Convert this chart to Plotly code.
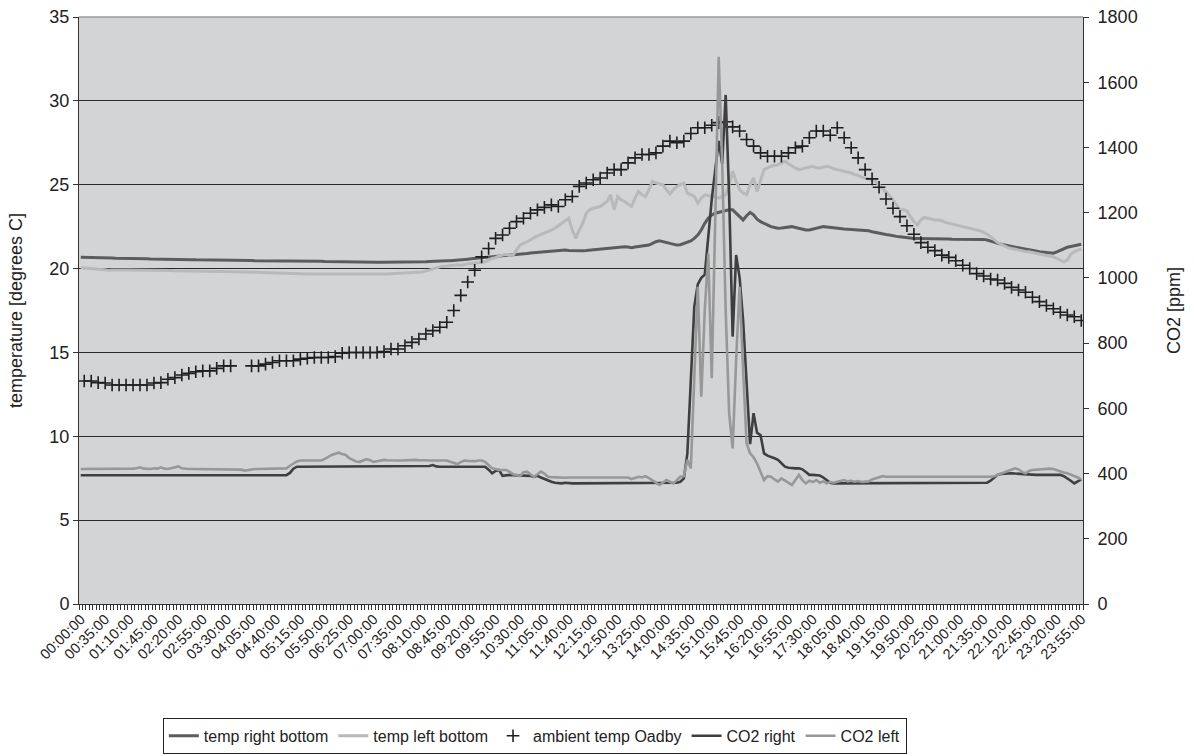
import plotly.graph_objects as go

# ---------------- data ----------------
TICK_LABELS = ["00:00:00","00:35:00","01:10:00","01:45:00","02:20:00","02:55:00","03:30:00",
               "04:05:00","04:40:00","05:15:00","05:50:00","06:25:00","07:00:00","07:35:00",
               "08:10:00","08:45:00","09:20:00","09:55:00","10:30:00","11:05:00","11:40:00",
               "12:15:00","12:50:00","13:25:00","14:00:00","14:35:00","15:10:00","15:45:00",
               "16:20:00","16:55:00","17:30:00","18:05:00","18:40:00","19:15:00","19:50:00",
               "20:25:00","21:00:00","21:35:00","22:10:00","22:45:00","23:20:00","23:55:00"]

# 5-minute time stamps of the day (category labels)
TIMES = ["%02d:%02d:00" % (h, m) for h in range(24) for m in range(0, 60, 5)]

temp_right_bottom = [
    20.67,20.67,20.66,20.66,20.65,20.65,20.64,20.64,20.63,20.63,20.62,20.62,
    20.61,20.61,20.60,20.60,20.59,20.59,20.58,20.58,20.57,20.57,20.56,20.56,
    20.55,20.55,20.55,20.54,20.54,20.54,20.53,20.53,20.53,20.52,20.52,20.52,
    20.52,20.51,20.51,20.51,20.50,20.50,20.50,20.49,20.49,20.49,20.48,20.48,
    20.48,20.48,20.47,20.47,20.47,20.47,20.46,20.46,20.46,20.46,20.45,20.45,
    20.45,20.45,20.44,20.44,20.44,20.44,20.43,20.43,20.43,20.43,20.42,20.42,
    20.42,20.42,20.41,20.41,20.40,20.40,20.40,20.39,20.39,20.39,20.38,20.38,
    20.38,20.38,20.37,20.37,20.37,20.37,20.38,20.38,20.38,20.39,20.39,20.40,
    20.40,20.40,20.41,20.41,20.42,20.42,20.43,20.44,20.45,20.46,20.47,20.48,
    20.50,20.52,20.54,20.56,20.58,20.60,20.62,20.63,20.64,20.65,20.66,20.68,
    20.70,20.72,20.75,20.78,20.80,20.83,20.85,20.88,20.90,20.93,20.95,20.98,
    21.00,21.02,21.03,21.05,21.06,21.07,21.08,21.10,21.08,21.07,21.08,21.07,
    21.07,21.08,21.10,21.12,21.15,21.18,21.20,21.22,21.25,21.28,21.30,21.30,
    21.30,21.28,21.25,21.28,21.30,21.33,21.35,21.40,21.50,21.60,21.65,21.60,
    21.55,21.50,21.45,21.40,21.42,21.50,21.60,21.65,21.80,22.00,22.30,22.70,
    23.00,23.20,23.30,23.35,23.40,23.45,23.50,23.50,23.30,23.10,22.90,23.15,
    23.35,23.20,22.95,22.80,22.70,22.60,22.50,22.45,22.40,22.42,22.45,22.50,
    22.50,22.45,22.40,22.35,22.30,22.30,22.35,22.40,22.45,22.50,22.48,22.45,
    22.42,22.40,22.38,22.36,22.35,22.34,22.33,22.32,22.30,22.28,22.25,22.20,
    22.15,22.10,22.07,22.03,22.00,21.95,21.92,21.90,21.87,21.85,21.82,21.80,
    21.80,21.80,21.80,21.79,21.78,21.78,21.77,21.77,21.76,21.76,21.75,21.75,
    21.75,21.75,21.75,21.75,21.75,21.75,21.75,21.74,21.70,21.65,21.58,21.50,
    21.45,21.40,21.35,21.30,21.27,21.24,21.20,21.17,21.14,21.10,21.05,21.00,
    20.98,20.95,20.90,20.92,21.00,21.10,21.20,21.27,21.32,21.37,21.42,21.45,
]

temp_left_bottom = [
    20.05,20.04,20.03,20.02,20.00,19.98,19.95,19.93,19.90,19.92,19.93,19.93,
    19.93,19.92,19.92,19.92,19.91,19.91,19.90,19.90,19.90,19.89,19.89,19.89,
    19.88,19.88,19.88,19.87,19.87,19.87,19.86,19.86,19.86,19.85,19.85,19.85,
    19.85,19.84,19.84,19.83,19.83,19.82,19.82,19.81,19.81,19.80,19.80,19.80,
    19.79,19.79,19.78,19.78,19.77,19.76,19.75,19.74,19.73,19.72,19.72,19.71,
    19.70,19.70,19.70,19.69,19.69,19.68,19.68,19.68,19.67,19.67,19.67,19.66,
    19.66,19.65,19.65,19.64,19.64,19.64,19.64,19.65,19.65,19.65,19.66,19.66,
    19.66,19.67,19.67,19.68,19.68,19.69,19.70,19.71,19.72,19.73,19.74,19.75,
    19.76,19.78,19.80,19.85,19.92,20.00,20.05,20.10,20.13,20.16,20.20,20.22,
    20.22,20.20,20.25,20.28,20.30,20.32,20.35,20.35,20.40,20.50,20.60,20.65,
    20.75,20.80,20.85,20.80,20.80,21.10,21.40,21.50,21.60,21.70,21.85,21.95,
    22.05,22.15,22.25,22.35,22.40,22.55,22.70,22.85,23.00,22.30,21.80,22.30,
    22.70,23.30,23.50,23.60,23.65,23.70,23.85,24.00,24.40,23.50,24.30,24.10,
    24.00,23.85,23.70,24.20,24.60,24.40,24.30,24.70,25.20,25.10,25.05,25.00,
    24.70,24.45,24.70,24.90,25.00,25.10,24.50,24.40,24.30,23.90,24.20,24.40,
    24.35,24.30,24.30,24.20,24.30,24.40,25.00,25.80,25.20,24.70,24.50,24.40,
    25.00,25.40,24.60,25.30,25.90,26.00,26.10,26.15,26.20,26.30,26.40,26.25,
    26.10,26.00,25.90,25.95,26.00,26.05,26.10,26.00,26.00,26.05,26.10,26.05,
    25.95,25.90,25.85,25.80,25.75,25.70,25.60,25.55,25.45,25.40,25.35,25.30,
    25.20,25.00,24.80,24.60,24.35,24.10,23.80,23.50,23.50,23.45,23.10,22.80,
    22.60,22.90,23.05,23.00,22.95,22.90,22.90,22.85,22.75,22.70,22.65,22.60,
    22.55,22.50,22.45,22.40,22.35,22.30,22.25,22.15,22.05,21.90,21.70,21.55,
    21.45,21.35,21.25,21.20,21.15,21.10,21.05,21.02,21.00,20.95,20.90,20.85,
    20.80,20.78,20.75,20.70,20.60,20.50,20.40,20.50,20.85,21.00,21.10,21.15,
]

# ambient temperature, one reading every 10 minutes (00:05, 00:15, ...), None = missing
ambient_temp_oadby = [
    13.3,13.3,13.2,13.18,13.06,13.06,13.06,13.06,13.06,13.06,13.18,13.2,13.4,13.5,13.65,
    13.75,13.85,13.9,13.9,14.05,14.2,14.2,
    None,None,
    14.2,14.2,14.3,14.4,14.5,14.5,14.5,14.6,14.65,14.7,14.7,14.7,
    14.75,14.95,15.0,15.0,15.0,15.0,15.0,15.05,15.2,15.2,15.4,15.6,15.8,16.1,16.3,16.5,
    16.8,17.5,18.4,19.2,19.9,20.7,21.2,21.8,22.0,22.4,22.8,23.0,23.3,23.5,23.65,23.8,
    23.7,24.1,24.3,24.9,
    25.1,25.3,25.4,25.7,25.9,25.9,26.3,26.6,26.8,26.8,26.9,27.3,27.6,27.5,27.6,28.05,
    28.4,28.4,28.55,28.7,28.75,28.45,28.2,27.7,27.3,26.9,26.7,26.7,26.7,26.9,27.2,27.3,
    27.8,28.2,28.2,27.95,
    28.4,27.8,27.2,26.6,25.9,25.35,24.85,24.15,23.6,23.1,22.55,22.05,21.55,21.27,21.07,
    20.8,20.67,20.47,20.2,20.0,19.7,19.56,19.38,19.32,19.12,18.88,18.72,18.59,18.29,
    18.03,17.8,17.6,17.4,17.23,17.13,16.9,
]

co2_right = [
    395,395,395,395,395,395,395,395,395,395,395,395,
    395,395,395,395,395,395,395,395,395,395,395,394,
    395,395,395,395,395,395,395,395,395,395,395,395,
    395,395,395,395,395,395,395,395,395,395,395,395,
    394,395,395,395,395,395,395,395,395,395,395,395,
    402,415,421,421,421,421,421,421,421,421,421,421,
    421,421,421,421,421,421,421,421,421,421,421,421,
    421,421,421,421,421,421,421,421,421,421,421,421,
    421,421,421,421,423,426,422,421,421,421,421,421,
    421,421,421,421,421,421,421,421,421,412,401,408,
    411,393,395,396,395,395,394,395,393,393,390,393,
    388,383,380,375,372,371,370,372,370,370,370,370,
    370,370,370,370,370,370,370,370,370,370,370,370,
    370,370,370,370,370,370,370,370,370,370,370,370,
    370,370,371,372,375,385,460,700,912,980,1000,1010,
    1130,1240,1330,1420,1350,1561,1250,820,1070,1000,870,660,
    490,585,525,518,462,455,452,447,442,430,421,418,
    416,416,416,413,405,396,396,396,394,388,380,372,
    370,370,370,370,370,370,370,370,370,370,370,370,
    370,370,370,370,370,370,370,370,370,370,370,370,
    370,370,370,370,370,370,370,370,370,370,370,370,
    370,370,370,370,370,370,370,370,372,378,388,396,
    399,400,401,401,400,399,398,398,397,397,396,396,
    396,396,396,396,396,396,392,386,378,370,375,382,
]

co2_left = [
    414,414,414,414,413,413,414,414,414,414,414,414,
    414,414,414,415,416,419,415,414,414,416,415,419,
    415,414,416,418,422,416,414,414,414,414,414,414,
    414,414,414,414,414,414,414,414,414,414,412,409,
    411,413,414,414,414,414,414,414,414,414,414,416,
    424,431,437,440,440,440,440,440,440,440,445,452,
    457,461,464,460,457,447,442,437,436,440,444,441,
    436,438,440,442,441,440,440,440,440,441,442,442,
    442,441,442,441,440,440,440,440,440,440,436,432,
    429,435,440,439,438,438,440,440,436,425,416,414,
    411,411,411,405,398,396,392,404,406,398,390,398,
    406,400,390,389,388,388,387,387,388,388,388,388,
    388,388,388,388,388,388,388,388,388,388,388,388,
    388,388,383,386,390,388,392,386,380,372,365,372,
    380,375,370,380,390,392,442,416,718,973,636,900,
    1075,692,1177,1678,1351,900,585,477,748,973,718,493,
    462,450,431,405,380,392,390,382,375,385,378,372,
    365,380,396,380,370,378,374,380,372,376,370,374,
    372,375,378,380,376,378,375,377,374,375,376,382,
    386,388,392,390,390,391,390,389,390,390,391,390,
    390,389,390,390,391,390,390,390,389,390,390,390,
    391,390,390,390,389,390,390,390,390,390,392,396,
    400,405,410,414,416,413,405,401,408,411,412,413,
    414,416,415,414,410,406,403,401,397,392,388,382,
]

for name, arr in [("trb", temp_right_bottom), ("tlb", temp_left_bottom),
                  ("co2r", co2_right), ("co2l", co2_left)]:
    assert len(arr) == len(TIMES), (name, len(arr))
assert len(ambient_temp_oadby) == len(TIMES[1::2]), len(ambient_temp_oadby)

# ---------------- figure ----------------
pos = {t: i for i, t in enumerate(TIMES)}
x_all = [pos[t] for t in TIMES]
x_amb = [pos[t] for t in TIMES[1::2]]
tickvals = [pos[t] for t in TICK_LABELS]

FONT = "Liberation Sans, Arial, sans-serif"
INK = "#222222"

fig = go.Figure()
fig.add_trace(go.Scatter(x=x_all, y=temp_right_bottom, name="temp right bottom", mode="lines",
                         line=dict(color="#5c5c5c", width=3)))
fig.add_trace(go.Scatter(x=x_all, y=temp_left_bottom, name="temp left bottom", mode="lines",
                         line=dict(color="#b9b9b9", width=3)))
fig.add_trace(go.Scatter(x=x_amb, y=ambient_temp_oadby, name="ambient temp Oadby", mode="markers",
                         marker=dict(symbol="cross-thin", size=9, color="#1e1e1e",
                                     line=dict(color="#1e1e1e", width=1.6))))
fig.add_trace(go.Scatter(x=x_all, y=co2_right, name="CO2 right", mode="lines", yaxis="y2",
                         line=dict(color="#3f3f3f", width=2.6)))
fig.add_trace(go.Scatter(x=x_all, y=co2_left, name="CO2 left", mode="lines", yaxis="y2",
                         line=dict(color="#989898", width=2.6)))

fig.update_layout(
    width=1194, height=756,
    margin=dict(l=79, r=111, t=17, b=152, autoexpand=False),
    paper_bgcolor="white", plot_bgcolor="#d3d4d6",
    font=dict(family=FONT, size=18, color=INK),
    showlegend=True,
    legend=dict(orientation="h", x=0.454, xanchor="center", y=-0.194, yanchor="top",
                bordercolor=INK, borderwidth=1, bgcolor="white",
                font=dict(size=16, family=FONT, color=INK),
                itemwidth=30, tracegroupgap=0),
    xaxis=dict(range=[-0.5, len(TIMES) - 0.5], tickmode="array", tickvals=tickvals,
               ticktext=TICK_LABELS, tickangle=-45, ticks="", showgrid=False, zeroline=False,
               showline=True, linecolor="#333333", linewidth=1, automargin=False,
               tickfont=dict(size=14.5, family=FONT, color=INK),
               minor=dict(ticks="outside", tickmode="linear", tick0=-0.5, dtick=1,
                          ticklen=5, tickcolor="#333333", tickwidth=1, showgrid=False)),
    yaxis=dict(range=[0, 35], tickmode="linear", tick0=0, dtick=5, showgrid=True,
               gridcolor="#2a2a2a", gridwidth=1, zeroline=False, showline=True,
               linecolor="#333333", linewidth=1, ticks="outside", ticklen=5,
               tickcolor="#333333", automargin=False,
               title=dict(text="temperature [degrees C]", standoff=22,
                          font=dict(size=18, family=FONT, color=INK))),
    yaxis2=dict(range=[0, 1800], tickmode="linear", tick0=0, dtick=200, overlaying="y",
                side="right", showgrid=False, zeroline=False, showline=True,
                linecolor="#333333", linewidth=1, ticks="outside", ticklen=5,
                tickcolor="#333333", automargin=False, ticklabelstandoff=5,
                title=dict(text="CO2 [ppm]", standoff=30,
                           font=dict(size=18, family=FONT, color=INK))),
    shapes=[dict(type="line", xref="paper", yref="paper", x0=0, x1=1, y0=1, y1=1,
                 line=dict(color="#9a9a9a", width=1.5))],
)

fig.write_html("out.html", config={"displayModeBar": False},
               post_script="document.body.style.margin='0px';document.body.style.padding='0px';")
